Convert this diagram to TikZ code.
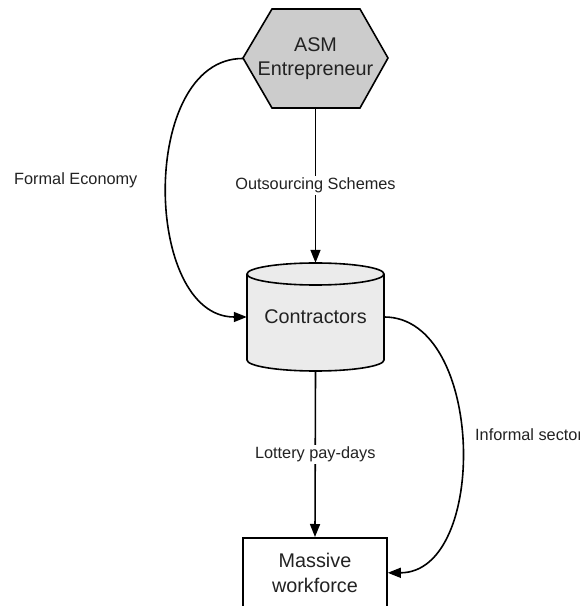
\documentclass[tikz,border=0pt]{standalone}
\usepackage{fontspec}
\setmainfont{Liberation Sans}
\usetikzlibrary{arrows.meta}
\definecolor{hexfill}{HTML}{CCCCCC}
\definecolor{cylfill}{HTML}{EBEBEB}
\definecolor{txt}{HTML}{222222}
\begin{document}
\begin{tikzpicture}[x=1pt,y=1pt,
  every node/.style={text=txt},
  conn/.style={line width=1.6pt, -{Triangle[length=13pt,width=10pt]}},
  shapeline/.style={line width=1.6pt},
  nodetext/.style={font=\fontsize{19.8}{24.5}\selectfont, align=center},
  edgelabel/.style={font=\fontsize{16.3}{19}\selectfont, fill=white, inner sep=2pt},
  freelabel/.style={font=\fontsize{16.3}{19}\selectfont, inner sep=0pt}]
\useasboundingbox (0,0) rectangle (580,606);
% hexagon
\fill[hexfill] (272,597) -- (360,597) -- (388,548) -- (360,498) -- (272,498) -- (243,548) -- cycle;
\draw[shapeline, line join=miter] (272,597) -- (360,597) -- (388,548) -- (360,498) -- (272,498) -- (243,548) -- cycle;
\node[nodetext, minimum width=145pt, minimum height=99pt, inner sep=0pt] (asm) at (315.5,547.5) {ASM\\Entrepreneur};
% cylinder
\filldraw[shapeline, fill=cylfill] (247,332) -- (247,246) arc[start angle=180, end angle=360, x radius=68.5pt, y radius=11pt] -- (384,332) arc[start angle=0, end angle=180, x radius=68.5pt, y radius=11pt] -- cycle;
\draw[shapeline] (247,332) arc[start angle=180, end angle=360, x radius=68.5pt, y radius=11pt];
\node[nodetext, minimum width=137pt, minimum height=108pt, inner sep=0pt] (con) at (315.5,289) {Contractors};
% massive workforce
\node[nodetext, draw, shapeline, fill=white, minimum width=144pt, minimum height=70pt, inner sep=0pt, anchor=north] (mw) at (315,69) {Massive\\workforce};
% connectors
\draw[conn] (asm.south) -- node[edgelabel] {Outsourcing Schemes} (con.north);
\draw[conn] (con.south) -- node[edgelabel] {Lottery pay-days} (mw.north);
\draw[conn] (asm.west) to[out=180, in=180, distance=104pt] (con.west);
\draw[conn] (con.east) to[out=0, in=0, distance=101pt] (mw.east);
% side labels
\node[freelabel, anchor=west] (formal) at (14,426) {Formal Economy};
\node[freelabel, anchor=west] (informal) at (475,171) {Informal sector};
\end{tikzpicture}
\end{document}
